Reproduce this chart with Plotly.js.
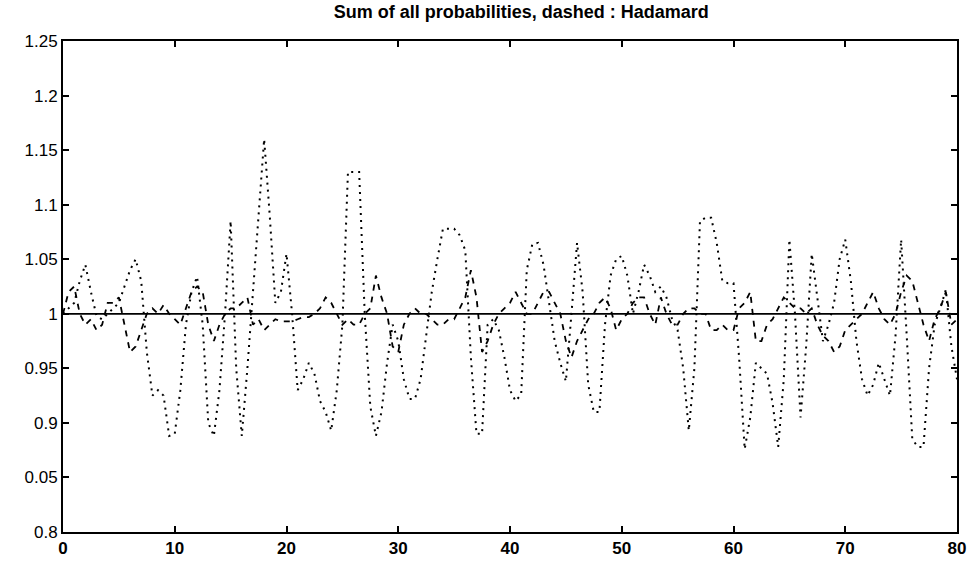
<!DOCTYPE html>
<html>
<head>
<meta charset="utf-8">
<script src="https://cdn.plot.ly/plotly-3.0.1.min.js"></script>
<style>html,body{margin:0;padding:0;background:#fff;}#chart{width:976px;height:567px;}</style>
</head>
<body>
<div id="chart"></div>
<script>
// x positions (step 0.5 from 0 to 80)
const xStart = 0, xStep = 0.5;

// Dotted series (large swings)
const dottedValues = [
1.0,1.005,1.01,1.03,1.045,1.02,0.998,0.995,1.0,1.005,
1.01,1.025,1.04,1.05,1.03,0.965,0.925,0.93,0.925,0.888,
0.89,0.93,0.99,1.02,1.034,0.99,0.9,0.888,0.93,1.0,
1.085,0.95,0.888,0.95,1.02,1.09,1.16,1.09,1.01,1.02,
1.055,1.0,0.93,0.94,0.955,0.945,0.92,0.91,0.893,0.93,
0.99,1.13,1.13,1.13,1.0,0.915,0.888,0.91,0.955,0.99,
0.975,0.94,0.922,0.922,0.94,0.98,1.02,1.05,1.078,1.078,
1.078,1.072,1.058,0.96,0.89,0.89,0.99,0.995,0.985,0.96,
0.93,0.92,0.926,1.04,1.064,1.065,1.045,1.01,0.975,0.955,
0.938,1.0,1.065,1.02,0.935,0.91,0.91,0.99,1.035,1.05,
1.053,1.035,1.0,1.02,1.045,1.035,1.02,1.025,1.015,0.995,
0.985,0.95,0.893,0.95,1.085,1.088,1.088,1.065,1.03,1.028,
1.028,0.96,0.876,0.905,0.955,0.95,0.945,0.918,0.878,0.94,
1.068,1.0,0.905,0.97,1.055,1.015,0.975,0.99,1.01,1.05,
1.068,1.03,0.975,0.94,0.925,0.935,0.955,0.94,0.925,0.98,
1.068,0.98,0.885,0.878,0.878,0.95,0.99,1.005,1.022,0.97,
0.94];

// Dashed series (Hadamard, small deviations)
const dashedValues = [
1.0,1.02,1.025,1.0,0.99,0.995,0.985,0.99,1.01,1.01,
1.015,0.99,0.965,0.97,0.985,1.0,1.005,1.0,1.008,1.0,
0.995,0.99,1.005,1.02,1.025,1.02,0.99,0.975,0.99,1.0,
1.005,1.005,1.01,1.015,0.99,0.995,0.985,0.99,0.995,0.993,
0.993,0.993,0.995,0.997,0.997,1.0,1.005,1.015,1.01,1.0,
0.99,0.995,0.99,0.99,1.0,1.005,1.035,1.015,1.0,0.97,
0.965,0.99,1.0,1.005,1.0,1.0,0.995,0.99,0.99,0.995,
0.995,1.005,1.015,1.04,1.015,0.965,0.975,0.99,1.0,1.005,
1.01,1.02,1.01,1.0,1.0,1.01,1.02,1.02,1.01,1.0,
0.975,0.96,0.975,0.985,0.995,1.0,1.01,1.015,1.005,0.985,
0.995,1.0,1.01,1.015,1.015,1.0,0.99,1.015,1.0,0.99,
0.99,1.0,1.005,1.005,1.0,1.0,0.985,0.985,0.99,0.985,
0.985,1.005,1.01,1.02,0.975,0.975,0.99,0.995,1.005,1.015,
1.01,1.005,1.005,1.0,1.005,0.99,0.98,0.975,0.965,0.97,
0.985,0.99,0.995,1.0,1.01,1.02,1.005,0.995,0.99,1.0,
1.02,1.035,1.03,1.01,0.99,0.975,0.995,1.005,1.02,0.99,
0.995];

// Solid reference line (sum = 1)
const solidX = [0, 80];
const solidValues = [1, 1];

// Axis ticks
const xTickVals = [0,10,20,30,40,50,60,70,80];
const xTickText = ["0","10","20","30","40","50","60","70","80"];
const yTickVals = [0.8,0.85,0.9,0.95,1,1.05,1.1,1.15,1.2,1.25];
const yTickText = ["0.8","0.05","0.9","0.95","1","1.05","1.1","1.15","1.2","1.25"];

const xs = dottedValues.map((_, i) => xStart + i * xStep);

const traces = [
  {x: xs, y: dottedValues, type: 'scatter', mode: 'lines',
   line: {color: '#000', width: 2, dash: '2px,5px'}, hoverinfo: 'skip'},
  {x: xs, y: dashedValues, type: 'scatter', mode: 'lines',
   line: {color: '#000', width: 1.8, dash: '6px,6px'}, hoverinfo: 'skip'},
  {x: solidX, y: solidValues, type: 'scatter', mode: 'lines',
   line: {color: '#000', width: 1.8}, hoverinfo: 'skip'}
];

const layout = {
  width: 976, height: 567,
  margin: {l: 63, r: 19, t: 41, b: 35},
  paper_bgcolor: '#fff', plot_bgcolor: '#fff',
  showlegend: false,
  font: {family: 'Liberation Sans, Arial, sans-serif', color: '#000', size: 17},
  title: {text: 'Sum of all probabilities, dashed : Hadamard',
          font: {size: 18, family: 'Liberation Sans, Arial, sans-serif', color: '#000', weight: 'bold'},
          x: 0.534, xanchor: 'center', y: 0.99, yanchor: 'top'},
  xaxis: {range: [0, 80], tickvals: xTickVals, ticktext: xTickText,
          ticks: 'inside', ticklen: 6, tickwidth: 2, tickcolor: '#000',
          showline: true, linecolor: '#000', linewidth: 2, mirror: 'ticks',
          showgrid: false, zeroline: false,
          tickfont: {size: 17, family: 'Liberation Sans, Arial, sans-serif', weight: 'bold'}},
  yaxis: {range: [0.8, 1.25], tickvals: yTickVals, ticktext: yTickText,
          ticks: 'inside', ticklen: 6, tickwidth: 2, tickcolor: '#000',
          showline: true, linecolor: '#000', linewidth: 2, mirror: 'ticks',
          showgrid: false, zeroline: false,
          tickfont: {size: 17, family: 'Liberation Sans, Arial, sans-serif'}}
};

Plotly.newPlot('chart', traces, layout, {displayModeBar: false, staticPlot: true});
</script>
</body>
</html>
